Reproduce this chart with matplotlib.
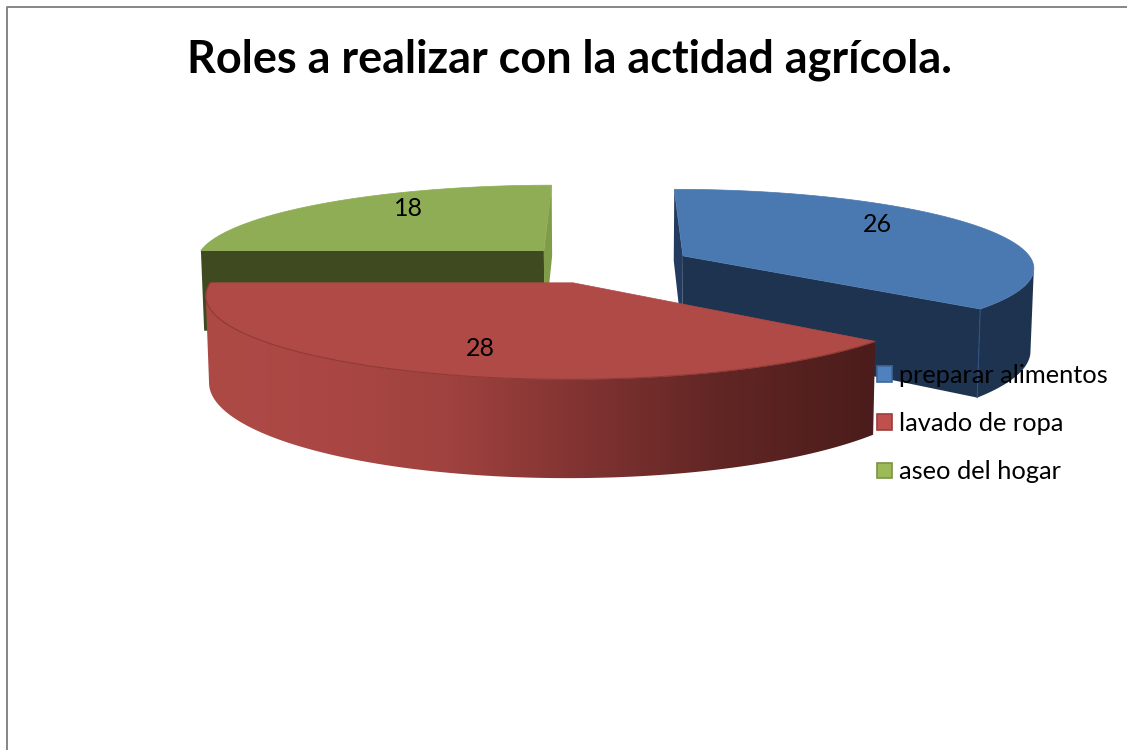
import numpy as np
import matplotlib
matplotlib.use("Agg")
import matplotlib.pyplot as plt
from matplotlib.patches import Polygon, Patch
from matplotlib.colors import LinearSegmentedColormap

categories = ["preparar alimentos", "lavado de ropa", "aseo del hogar"]
values = [26, 28, 18]
title_text = "Roles a realizar con la actidad agrícola."

top_colors = ["#4A79B1", "#AF4A46", "#8FAD54"]
cut_colors = ["#1E3350", None, "#3F4A21"]
sliver_colors = ["#223B5E", None, "#7F9C49"]
swatch_colors = ["#4F81BD", "#C0504D", "#9BBB59"]
swatch_edges = ["#3F6797", "#9B3D3A", "#7A9445"]
label_shift = [-11, -3, 9]

# camera for the tilted pie, worked out from the picture
VP_X, VP_Y = 610, -305
PLANE_H = 575
SCALE = 355
TILT = 0.138
DEPTH = 83
LOW_SHRINK = 0.992
CENTER = (-0.016, -0.077)
EXPLODE = 0.25


def project(u, v, low=False):
    w = 1 - TILT * v
    if low:
        return VP_X + SCALE * LOW_SHRINK * u / w, VP_Y + (PLANE_H + DEPTH) / w
    return VP_X + SCALE * u / w, VP_Y + PLANE_H / w


def apex_of(a0, a1):
    mid = np.radians((a0 + a1) / 2)
    return CENTER[0] + EXPLODE * np.sin(mid), CENTER[1] - EXPLODE * np.cos(mid)


def rim(a0, a1, low=False):
    t = np.radians(np.linspace(a0, a1, 240))
    ua, va = apex_of(a0, a1)
    x, y = project(ua + np.sin(t), va - np.cos(t), low)
    return np.column_stack([x, y])


fig = plt.figure(figsize=(11.27, 7.5), dpi=100)
ax = fig.add_axes([0, 0, 1, 1])
ax.set_xlim(0, 1127)
ax.set_ylim(750, 0)
ax.axis("off")

# chart frame, only the top and left edges are inside the picture
ax.plot([6.5, 6.5, 1127], [750, 6.5, 6.5], color="#868686", lw=1.4)

total = sum(values)
edges = np.cumsum([0] + values) * 360 / total

red_fade = LinearSegmentedColormap.from_list("red_side", [
    (0.0, "#AE4A46"), (0.18, "#AA4744"), (0.36, "#A0423F"), (0.55, "#823432"),
    (0.75, "#632725"), (1.0, "#4A1C1B")])


def flat_face(apex_top, apex_low, top_pt, low_pt, col, z):
    ax.add_patch(Polygon([apex_top, top_pt, low_pt, apex_low], closed=True, fc=col, ec="none", zorder=z))


def draw_wedge(i, z):
    a0, a1 = edges[i], edges[i + 1]
    ua, va = apex_of(a0, a1)
    apex_top = project(ua, va)
    apex_low = project(ua, va, True)
    top = rim(a0, a1)
    low = rim(a0, a1, True)

    if i == 0:
        # blue: left sliver, big cut face, then the rim from its rightmost point on
        flat_face(apex_top, apex_low, top[0], low[0], sliver_colors[i], z)
        flat_face(apex_top, apex_low, top[-1], low[-1], cut_colors[i], z)
        k = np.argmax(top[:, 0])
        side = np.vstack([top[k:], low[k:][::-1]])
        ax.add_patch(Polygon(side, closed=True, fc=cut_colors[i], ec="none", zorder=z))
        ax.plot([top[-1][0], low[-1][0]], [top[-1][1], low[-1][1]], color="#2F5180", lw=0.8, zorder=z)
    elif i == 1:
        # red: only the rim shows, it fades to dark from left to right
        k = np.argmin(top[:, 0])
        side = Polygon(np.vstack([top[:k + 1], low[:k + 1][::-1]]), closed=True, fc="none", ec="none", zorder=z)
        ax.add_patch(side)
        img = ax.imshow(np.linspace(0, 1, 256).reshape(1, -1), cmap=red_fade, aspect="auto",
                        extent=[top[:, 0].min(), top[:, 0].max() + 2, 500, 270], zorder=z)
        img.set_clip_path(side)
        ax.set_xlim(0, 1127)
        ax.set_ylim(750, 0)
    else:
        # green: big cut face on the left edge, lighter sliver on the right
        flat_face(apex_top, apex_low, top[0], low[0], cut_colors[i], z)
        flat_face(apex_top, apex_low, top[-1], low[-1], sliver_colors[i], z)

    outline = np.vstack([[apex_top], top])
    ax.add_patch(Polygon(outline, closed=True, fc=top_colors[i], ec=top_colors[i], lw=0.5, zorder=z + 0.5))
    if i == 1:
        ax.plot(top[:, 0], top[:, 1], color="#8E3A37", lw=0.8, zorder=z + 0.6)


# back wedges first, red sits in front of the other two
draw_wedge(2, 2)
draw_wedge(0, 3)
draw_wedge(1, 4)

for i in range(len(values)):
    a0, a1 = edges[i], edges[i + 1]
    ua, va = apex_of(a0, a1)
    ang = np.radians((a0 + a1) / 2 + label_shift[i])
    x, y = project(ua + 0.75 * np.sin(ang), va - 0.75 * np.cos(ang))
    ax.text(x, y, str(values[i]), ha="center", va="center", fontsize=18, family="Lato", color="black", zorder=8)

ax.text(569, 60, title_text, ha="center", va="center", fontsize=32.4, fontweight="bold",
        family="Lato", color="black", zorder=8)

handles = [Patch(facecolor=swatch_colors[i], edgecolor=swatch_edges[i], linewidth=1.2, label=categories[i])
           for i in range(len(categories))]
leg = ax.legend(handles=handles, loc="upper left", bbox_to_anchor=(870, 357), bbox_transform=ax.transData,
                frameon=False, prop={"family": "Lato", "size": 18.3}, handlelength=0.58, handleheight=0.58,
                handletextpad=0.3, labelspacing=0.99, borderpad=0.28, borderaxespad=0)
leg.set_zorder(9)

plt.savefig("out.png", dpi=100)
